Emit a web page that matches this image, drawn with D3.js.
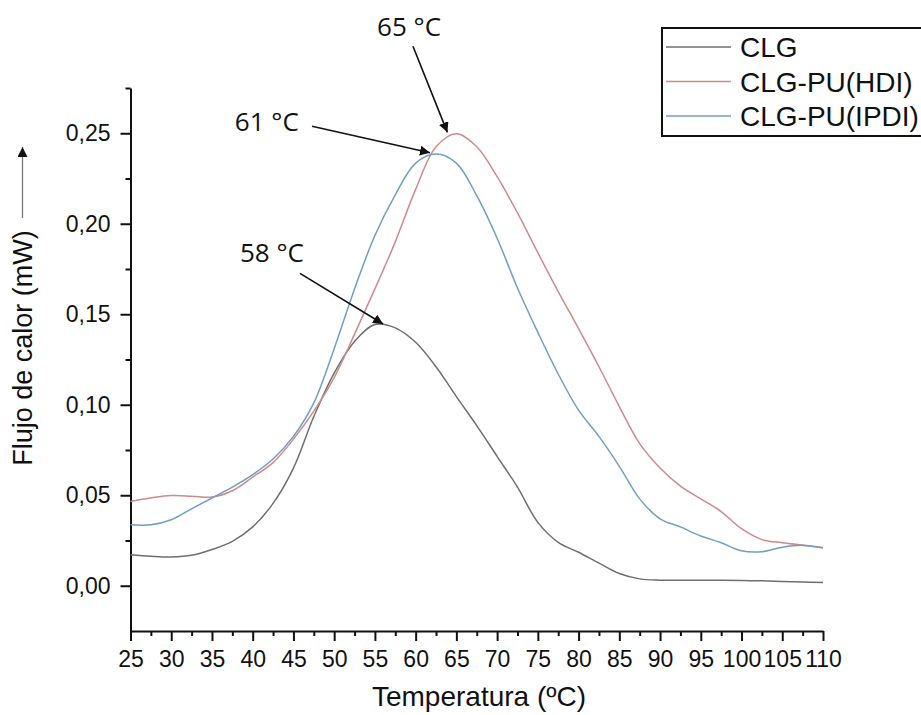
<!DOCTYPE html>
<html>
<head>
<meta charset="utf-8">
<script src="https://cdn.jsdelivr.net/npm/d3@7"></script>
<style>
  html, body { margin: 0; padding: 0; background: #fff; }
  svg { display: block; }
  .axis text { font-family: "Liberation Sans", Arial, sans-serif; font-size: 23px; fill: #111; }
  .axis path, .axis line { stroke: #111; stroke-width: 2; }
</style>
</head>
<body>
<svg id="chart" width="921" height="715"></svg>
<script>
// DSC heat-flow curves (mW) vs temperature (°C)
const temperature = [25, 27.5, 30, 32.5, 35, 37.5, 40, 42.5, 45, 47.5, 50, 52.5, 55, 57.5, 60, 62.5, 65,
  67.5, 70, 72.5, 75, 77.5, 80, 82.5, 85, 87.5, 90, 92.5, 95, 97.5, 100, 102.5, 105, 107.5, 110];

const clg = [0.0171, 0.0163, 0.0159, 0.0168, 0.0200, 0.0245, 0.0325, 0.0455, 0.0650, 0.0935, 0.1175,
  0.1350, 0.1443, 0.1425, 0.1345, 0.1210, 0.1045, 0.0885, 0.0715, 0.0545, 0.0350, 0.0240, 0.0185,
  0.0125, 0.0068, 0.0038, 0.0031, 0.0030, 0.0030, 0.0030, 0.0029, 0.0027, 0.0024, 0.0021, 0.0018];

const clgPuHdi = [0.0466, 0.0485, 0.0498, 0.0495, 0.0490, 0.0525, 0.0600, 0.0680, 0.0810, 0.0965,
  0.1150, 0.1390, 0.1640, 0.1900, 0.2190, 0.2425, 0.2497, 0.2425, 0.2260, 0.2060, 0.1840, 0.1625,
  0.1420, 0.1210, 0.0990, 0.0785, 0.0650, 0.0550, 0.0480, 0.0410, 0.0315, 0.0255, 0.0238, 0.0225, 0.0212];

const clgPuIpdi = [0.0337, 0.0337, 0.0365, 0.0425, 0.0485, 0.0545, 0.0614, 0.0700, 0.0825, 0.1010,
  0.1310, 0.1640, 0.1935, 0.2160, 0.2335, 0.2385, 0.2335, 0.2155, 0.1920, 0.1645, 0.1400, 0.1170,
  0.0970, 0.0825, 0.0660, 0.0480, 0.0370, 0.0325, 0.0275, 0.0238, 0.0193, 0.0188, 0.0213, 0.0223, 0.0208];

const seriesNames = ["CLG", "CLG-PU(HDI)", "CLG-PU(IPDI)"];
const seriesValues = [clg, clgPuHdi, clgPuIpdi];
const seriesColors = ["#6f6f6f", "#cf8a8a", "#6f9fc4"];

const xTicks = [25, 30, 35, 40, 45, 50, 55, 60, 65, 70, 75, 80, 85, 90, 95, 100, 105, 110];
const yTicks = [0, 0.05, 0.10, 0.15, 0.20, 0.25];

// Peak annotations: label, label anchor, arrow tail and arrow tip (data units)
const peakLabels = ["65 °C", "61 °C", "58 °C"];
const labelAt = [[55.26, 0.3038], [37.8, 0.2513], [38.44, 0.1787]];
const arrowFrom = [[59.67, 0.2981], [47.28, 0.2539], [45.8, 0.1726]];
const arrowTo = [[63.9, 0.2505], [61.76, 0.2392], [56.0, 0.1446]];

const svg = d3.select("#chart");
const plotLeft = 130.5, plotRight = 823, plotTop = 88, plotBottom = 631;

const x = d3.scaleLinear().domain([25, 110]).range([plotLeft, plotRight]);
const y = d3.scaleLinear().domain([-0.025, 0.275]).range([plotBottom, plotTop]);

const fmt = d => d3.format(".2f")(d).replace(".", ",");

// minor ticks
svg.append("g").attr("class", "axis")
  .attr("transform", `translate(0,${plotBottom})`)
  .call(d3.axisBottom(x).tickValues(d3.range(27.5, 110, 5)).tickSize(5).tickSizeOuter(0).tickFormat(""))
  .call(g => g.select(".domain").remove());
svg.append("g").attr("class", "axis")
  .attr("transform", `translate(${plotLeft},0)`)
  .call(d3.axisLeft(y).tickValues([0.025, 0.075, 0.125, 0.175, 0.225, 0.275]).tickSize(5).tickSizeOuter(0).tickFormat(""))
  .call(g => g.select(".domain").remove());

// major axes
svg.append("g").attr("class", "axis")
  .attr("transform", `translate(0,${plotBottom})`)
  .call(d3.axisBottom(x).tickValues(xTicks).tickSize(10).tickSizeOuter(0).tickPadding(10).tickFormat(d3.format("d")));
svg.append("g").attr("class", "axis")
  .attr("transform", `translate(${plotLeft},0)`)
  .call(d3.axisLeft(y).tickValues(yTicks).tickSize(10).tickSizeOuter(0).tickPadding(10).tickFormat(fmt));

// axis titles
svg.append("text")
  .attr("x", 479).attr("y", 706)
  .attr("text-anchor", "middle")
  .style("font-family", "'Liberation Sans', Arial, sans-serif")
  .style("font-size", "28px").style("fill", "#111")
  .text("Temperatura (ºC)");

svg.append("text")
  .attr("transform", "translate(32,348) rotate(-90)")
  .attr("text-anchor", "middle")
  .style("font-family", "'Liberation Sans', Arial, sans-serif")
  .style("font-size", "27px").style("fill", "#111")
  .text("Flujo de calor (mW)");

const defs = svg.append("defs");
defs.append("marker").attr("id", "head")
  .attr("viewBox", "0 0 10 10").attr("refX", 10).attr("refY", 5)
  .attr("markerWidth", 10).attr("markerHeight", 10)
  .attr("markerUnits", "userSpaceOnUse")
  .attr("orient", "auto")
  .append("path").attr("d", "M0,0 L10,5 L0,10 z").attr("fill", "#111");

// arrow beside the y title
svg.append("line")
  .attr("x1", 22.5).attr("y1", 218).attr("x2", 22.5).attr("y2", 147)
  .attr("stroke", "#777").attr("stroke-width", 1.3)
  .attr("marker-end", "url(#head)");

// curves
const line = d3.line()
  .x((d, i) => x(temperature[i]))
  .y(d => y(d))
  .curve(d3.curveCatmullRom.alpha(0.5));

svg.append("g").selectAll("path")
  .data(seriesValues)
  .join("path")
  .attr("d", d => line(d))
  .attr("fill", "none")
  .attr("stroke", (d, i) => seriesColors[i])
  .attr("stroke-width", 1.5);

// peak annotations
const ann = svg.append("g");
peakLabels.forEach((lab, i) => {
  ann.append("text")
    .attr("x", x(labelAt[i][0])).attr("y", y(labelAt[i][1]))
    .style("font-family", "'Open Sans', 'Noto Sans', sans-serif")
    .style("font-size", "26px").style("fill", "#111")
    .text(lab);
  ann.append("line")
    .attr("x1", x(arrowFrom[i][0])).attr("y1", y(arrowFrom[i][1]))
    .attr("x2", x(arrowTo[i][0])).attr("y2", y(arrowTo[i][1]))
    .attr("stroke", "#111").attr("stroke-width", 1.6)
    .attr("marker-end", "url(#head)");
});

// legend (box runs off the right edge of the page)
const legend = svg.append("g").attr("transform", "translate(662,28)");
legend.append("rect")
  .attr("x", 0).attr("y", 0).attr("width", 300).attr("height", 108)
  .attr("fill", "#fff").attr("stroke", "#111").attr("stroke-width", 2);
seriesNames.forEach((name, i) => {
  const cy = 19 + i * 34.5;
  legend.append("line")
    .attr("x1", 4).attr("x2", 69).attr("y1", cy).attr("y2", cy)
    .attr("stroke", seriesColors[i]).attr("stroke-width", 1.5);
  legend.append("text")
    .attr("x", 78).attr("y", cy + 10)
    .style("font-family", "'Liberation Sans', Arial, sans-serif")
    .style("font-size", "28px").style("fill", "#111")
    .text(name);
});
</script>
</body>
</html>
